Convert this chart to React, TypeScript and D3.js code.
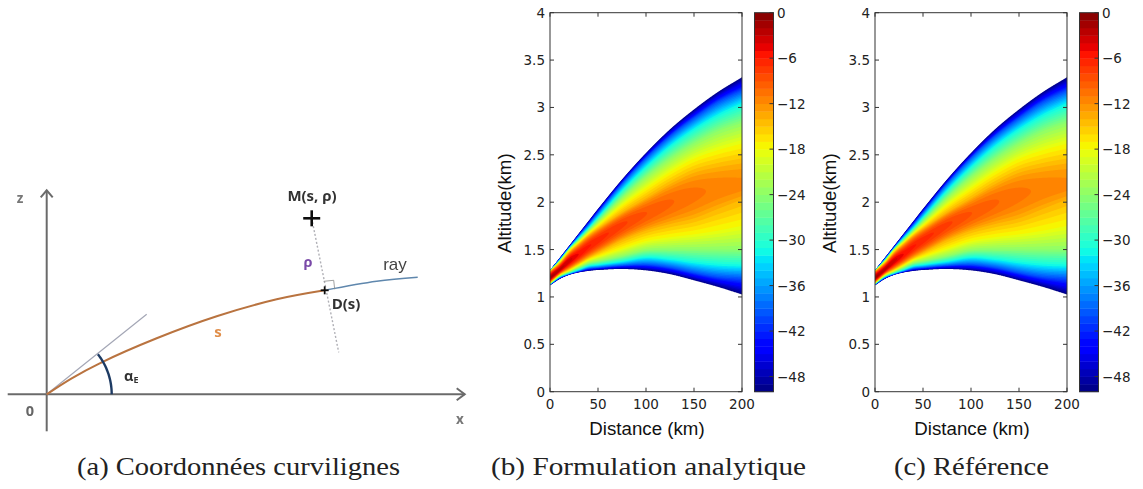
import React, { useMemo } from "react";
import * as d3 from "d3";

// ---------- Data ----------
const distanceTicks = [0, 50, 100, 150, 200];
const altitudeTicks = [0, 0.5, 1, 1.5, 2, 2.5, 3, 3.5, 4];
const colorbarTicks = [0, -6, -12, -18, -24, -30, -36, -42, -48];
const stations = [0, 10, 20, 30, 40, 50, 75, 100, 125, 150, 175, 200];
const ridgeAltitude = [1.2, 1.285, 1.38, 1.45, 1.53, 1.6, 1.76, 1.88, 1.99, 2.08, 2.14, 2.17];
const ridgeValue = [-1.5, -2.5, -3.5, -5, -5.8, -6.4, -7.7, -8.95, -9.85, -10.65, -11.3, -11.7];
const isoLevels = [-50, -40, -32, -24, -18, -14];
const upperIso = [
  [1.28, 1.41, 1.54, 1.67, 1.8, 1.93, 2.24, 2.52, 2.77, 2.98, 3.165, 3.32],
  [1.279, 1.4, 1.525, 1.65, 1.77, 1.895, 2.2, 2.47, 2.7, 2.89, 3.06, 3.18],
  [1.278, 1.39, 1.515, 1.625, 1.73, 1.845, 2.13, 2.38, 2.6, 2.78, 2.93, 3.05],
  [1.277, 1.38, 1.505, 1.6, 1.7, 1.8, 2.05, 2.27, 2.46, 2.62, 2.75, 2.84],
  [1.275, 1.37, 1.49, 1.58, 1.672, 1.757, 1.97, 2.15, 2.32, 2.46, 2.55, 2.62],
  [1.27, 1.355, 1.47, 1.56, 1.647, 1.72, 1.89, 2.04, 2.19, 2.31, 2.37, 2.41],
];
const lowerIso = [
  [1.125, 1.19, 1.235, 1.26, 1.275, 1.285, 1.295, 1.28, 1.24, 1.175, 1.105, 1.025],
  [1.13, 1.2, 1.24, 1.27, 1.298, 1.308, 1.33, 1.34, 1.31, 1.255, 1.21, 1.19],
  [1.135, 1.21, 1.25, 1.285, 1.323, 1.336, 1.37, 1.41, 1.39, 1.355, 1.33, 1.32],
  [1.14, 1.22, 1.265, 1.31, 1.355, 1.376, 1.43, 1.49, 1.5, 1.5, 1.5, 1.5],
  [1.148, 1.23, 1.28, 1.335, 1.39, 1.425, 1.51, 1.59, 1.63, 1.66, 1.7, 1.75],
  [1.155, 1.24, 1.295, 1.355, 1.415, 1.468, 1.6, 1.7, 1.77, 1.83, 1.93, 2.03],
];
const contourLevels = d3.range(-50, 0, 1);

// Diagram (a), in diagram units measured from the origin
const orangeRay: [number, number][] = [[0, 0], [25, 16], [53, 31], [110, 56], [170, 78], [230, 95], [278, 104]];
const blueRay: [number, number][] = [[278, 104], [330, 113], [371, 117]];
const tangentEnd: [number, number] = [100, 80];
const pointM: [number, number] = [265, 176];
const pointD: [number, number] = [278, 104];
const dottedEnd: [number, number] = [292, 42];
const arcRadius = 65;
const arcAngle = 38;

const captions = ["(a) Coordonnées curvilignes", "(b) Formulation analytique", "(c) Référence"];

// ---------- Helpers ----------
const lerpStops = (stops: number[][], t: number) => {
  for (let i = 1; i < stops.length; i++) {
    if (t <= stops[i][0]) {
      const [a, va] = stops[i - 1];
      const [b, vb] = stops[i];
      return va + ((vb - va) * (t - a)) / (b - a);
    }
  }
  return stops[stops.length - 1][1];
};
const jet = (t: number) => {
  const r = lerpStops([[0, 0], [0.35, 0], [0.66, 1], [0.89, 1], [1, 0.5]], t);
  const g = lerpStops([[0, 0], [0.125, 0], [0.375, 1], [0.64, 1], [0.91, 0], [1, 0]], t);
  const b = lerpStops([[0, 0.5], [0.11, 1], [0.34, 1], [0.65, 0], [1, 0]], t);
  return d3.rgb(r * 255, g * 255, b * 255).formatHex();
};
const levelColor = (l: number) => jet((l + 0.5 + 50) / 50);

// Hermite evaluation along the stations
const smooth = (ys: number[], x: number) => {
  const n = stations.length;
  const cx = Math.max(0, Math.min(200, x));
  let i = d3.bisectRight(stations, cx) - 1;
  i = Math.max(0, Math.min(n - 2, i));
  const h = stations[i + 1] - stations[i];
  const t = (cx - stations[i]) / h;
  const slope = (k: number) => {
    const a = Math.max(0, k - 1);
    const b = Math.min(n - 1, k + 1);
    return (ys[b] - ys[a]) / (stations[b] - stations[a]);
  };
  const m0 = slope(i) * h;
  const m1 = slope(i + 1) * h;
  const t2 = t * t;
  const t3 = t2 * t;
  return (2 * t3 - 3 * t2 + 1) * ys[i] + (t3 - 2 * t2 + t) * m0 + (-2 * t3 + 3 * t2) * ys[i + 1] + (t3 - t2) * m1;
};

const W = 192;
const H = 379;
const x0 = 550;
const yTop = 12.7;
const xScale = d3.scaleLinear().domain([0, 200]).range([0, W]);
const yScale = d3.scaleLinear().domain([0, 4]).range([H, 0]);
const cbScale = d3.scaleLinear().domain([-50, 0]).range([H, 0]);

function buildBands() {
  const RES = 2;
  const nx = W * RES + 3;
  const ny = H * RES + 3;
  const values = new Float64Array(nx * ny);
  for (let i = 0; i < nx; i++) {
    const d = xScale.invert((i - 1) / RES);
    const lowers = lowerIso.map((s) => smooth(s, d));
    const uppers = upperIso.map((s) => smooth(s, d));
    const rA = smooth(ridgeAltitude, d);
    const rV = smooth(ridgeValue, d);
    for (let j = 0; j < ny; j++) {
      const alt = yScale.invert((j - 1) / RES);
      let v: number;
      if (alt <= lowers[0]) v = Math.max(-90, -50 - (lowers[0] - alt) * 300);
      else if (alt >= uppers[0]) v = Math.max(-90, -50 - (alt - uppers[0]) * 300);
      else {
        const side = alt < rA ? lowers : uppers;
        const sgn = alt < rA ? 1 : -1;
        let k = side.length - 1;
        for (let q = 0; q < side.length - 1; q++) {
          if (sgn * (alt - side[q]) >= 0 && sgn * (alt - side[q + 1]) < 0) { k = q; break; }
        }
        if (k === side.length - 1) {
          const t = (alt - rA) / (side[k] - rA);
          v = rV + (isoLevels[k] - rV) * t * t;
        } else {
          const t = (alt - side[k]) / (side[k + 1] - side[k]);
          v = isoLevels[k] + (isoLevels[k + 1] - isoLevels[k]) * t;
        }
      }
      values[i + j * nx] = v;
    }
  }
  const contours = d3.contours().size([nx, ny]).thresholds(contourLevels)(values as any);
  const path = d3.geoPath();
  return { RES, paths: contours.map((c) => ({ level: c.value, d: path(c) || "" })) };
}

const axisColor = "#333";
const tickFont = "'DejaVu Sans', sans-serif";
const labelFont = "'Liberation Sans', Arial, sans-serif";
const diagramFont = "'Open Sans', 'Noto Sans', sans-serif";

function Panel({ dx, id, bands }: { dx: number; id: string; bands: ReturnType<typeof buildBands> }) {
  const cbx = 204.5;
  const cbw = 19;
  const off = 1 / bands.RES;
  return (
    <g transform={`translate(${x0 + dx},${yTop})`}>
      <clipPath id={id}>
        <rect x={0} y={0} width={W} height={H} />
      </clipPath>
      <g clipPath={`url(#${id})`}>
        <g transform={`translate(${-(1 + 0.5) * off},${-(1 + 0.5) * off}) scale(${off})`}>
          {bands.paths.map((p) => (
            <path key={p.level} d={p.d} fill={levelColor(p.level)} />
          ))}
        </g>
      </g>
      <rect x={0} y={0} width={W} height={H} fill="none" stroke={axisColor} strokeWidth={1} />
      {distanceTicks.map((t) => (
        <g key={t} transform={`translate(${xScale(t)},0)`}>
          <line y1={0} y2={4} stroke={axisColor} />
          <line y1={H} y2={H - 4} stroke={axisColor} />
          <text y={H + 17} textAnchor="middle" fontFamily={tickFont} fontSize={13.5} fill="#222">{t}</text>
        </g>
      ))}
      {altitudeTicks.map((t) => (
        <g key={t} transform={`translate(0,${yScale(t)})`}>
          <line x1={0} x2={4} stroke={axisColor} />
          <line x1={W} x2={W - 4} stroke={axisColor} />
          <text x={-5} y={5} textAnchor="end" fontFamily={tickFont} fontSize={13.5} fill="#222">{t}</text>
        </g>
      ))}
      <text x={W / 2 + 1} y={H + 43} textAnchor="middle" fontFamily={labelFont} fontSize={18.7} fill="#111">Distance (km)</text>
      <text transform={`translate(${-39},${H / 2 + 1}) rotate(-90)`} textAnchor="middle" fontFamily={labelFont} fontSize={18.7} fill="#111">Altitude(km)</text>
      {contourLevels.map((l) => (
        <rect key={l} x={cbx} y={cbScale(l + 1)} width={cbw} height={cbScale(l) - cbScale(l + 1) + 0.4} fill={levelColor(l)} />
      ))}
      <rect x={cbx} y={0} width={cbw} height={H} fill="none" stroke={axisColor} strokeWidth={1} />
      {colorbarTicks.map((t) => (
        <g key={t} transform={`translate(${cbx + cbw},${cbScale(t)})`}>
          <line x1={0} x2={-4} stroke={axisColor} />
          <text x={3.5} y={5} fontFamily={tickFont} fontSize={13.5} fill="#222">{t < 0 ? `\u2212${-t}` : t}</text>
        </g>
      ))}
    </g>
  );
}

function Diagram() {
  const ax = d3.scaleLinear().domain([0, 420]).range([46.7, 466.7]);
  const ay = d3.scaleLinear().domain([0, 205]).range([394.3, 189.3]);
  const line = d3.line<[number, number]>().x((d) => ax(d[0])).y((d) => ay(d[1])).curve(d3.curveCatmullRom);
  const gray = "#6b6b6b";
  const arcPts = d3.range(0, arcAngle + 1, 2).map((a) => [arcRadius * Math.cos((a * Math.PI) / 180), arcRadius * Math.sin((a * Math.PI) / 180)] as [number, number]);
  return (
    <g filter="url(#soft)">
      <line x1={ax(-39)} x2={ax(418)} y1={ay(0)} y2={ay(0)} stroke={gray} strokeWidth={2} />
      <line x1={ax(0)} x2={ax(0)} y1={ay(-37)} y2={ay(204)} stroke={gray} strokeWidth={2} />
      <path d={`M${ax(410)},${ay(6)}L${ax(418)},${ay(0)}L${ax(410)},${ay(-6)}`} fill="none" stroke={gray} strokeWidth={2} />
      <path d={`M${ax(-6)},${ay(197)}L${ax(0)},${ay(204)}L${ax(6)},${ay(197)}`} fill="none" stroke={gray} strokeWidth={2} />
      <line x1={ax(0)} y1={ay(0)} x2={ax(tangentEnd[0])} y2={ay(tangentEnd[1])} stroke="#a3a6b5" strokeWidth={1.2} />
      <path d={line(blueRay) || ""} fill="none" stroke="#5f87ad" strokeWidth={1.5} />
      <path d={line(orangeRay) || ""} fill="none" stroke="#b9733f" strokeWidth={2} />
      <path d={d3.line<[number, number]>().x((d) => ax(d[0])).y((d) => ay(d[1]))(arcPts) || ""} fill="none" stroke="#1f3a63" strokeWidth={2.4} />
      <line x1={ax(pointM[0])} y1={ay(pointM[1])} x2={ax(dottedEnd[0])} y2={ay(dottedEnd[1])} stroke="#b0b0b6" strokeWidth={1.4} strokeDasharray="2 2" />
      <path d={`M${ax(pointD[0] - 1)},${ay(pointD[1] + 9)}L${ax(pointD[0] + 9)},${ay(pointD[1] + 10)}L${ax(pointD[0] + 10)},${ay(pointD[1] + 1)}`} fill="none" stroke="#8a8a8a" strokeWidth={0.8} />
      <g stroke="#111" strokeWidth={2.6}>
        <line x1={ax(pointM[0] - 8.5)} x2={ax(pointM[0] + 8.5)} y1={ay(pointM[1])} y2={ay(pointM[1])} />
        <line x1={ax(pointM[0])} x2={ax(pointM[0])} y1={ay(pointM[1] - 8)} y2={ay(pointM[1] + 8)} />
      </g>
      <g stroke="#111" strokeWidth={1.8}>
        <line x1={ax(pointD[0] - 4)} x2={ax(pointD[0] + 4)} y1={ay(pointD[1])} y2={ay(pointD[1])} />
        <line x1={ax(pointD[0])} x2={ax(pointD[0])} y1={ay(pointD[1] - 4)} y2={ay(pointD[1] + 4)} />
      </g>
      <g fontFamily={diagramFont}>
        <text x={312} y={201} textAnchor="middle" fontWeight={700} fontSize={15} fill="#333">M(s, ρ)</text>
        <text x={346} y={309} textAnchor="middle" fontWeight={700} fontSize={15} fill="#333">D(s)</text>
        <text x={20} y={203} textAnchor="middle" fontWeight={700} fontSize={13.5} fill="#777">z</text>
        <text x={30} y={416} textAnchor="middle" fontWeight={700} fontSize={14.5} fill="#666">0</text>
        <text x={460} y={424} textAnchor="middle" fontWeight={700} fontSize={13.5} fill="#777">x</text>
        <text x={308} y={267} textAnchor="middle" fontWeight={700} fontSize={14.5} fill="#7a4aa8">ρ</text>
        <text x={218} y={337} textAnchor="middle" fontWeight={700} fontSize={15} fill="#e08e4a">s</text>
        <text x={395} y={270} textAnchor="middle" fontSize={17} fontFamily={labelFont} fill="#444">ray</text>
        <text x={124} y={381} fontWeight={700} fontSize={14.5} fill="#333">α<tspan fontSize={9} dy={2}>E</tspan></text>
      </g>
    </g>
  );
}

export default function App() {
  const bands = useMemo(buildBands, []);
  const capFont = "'Liberation Serif', 'DejaVu Serif', serif";
  return (
    <svg width={1143} height={489} style={{ position: "absolute", left: 0, top: 0, background: "#fff" }}>
      <defs>
        <filter id="soft" x="-5%" y="-5%" width="110%" height="110%">
          <feGaussianBlur stdDeviation={0.55} />
        </filter>
      </defs>
      <Diagram />
      <Panel dx={0} id="clipB" bands={bands} />
      <Panel dx={325} id="clipC" bands={bands} />
      <g fontFamily={capFont} fontSize={26} fill="#222">
        <text x={77} y={475} textLength={323} lengthAdjust="spacingAndGlyphs">{captions[0]}</text>
        <text x={491} y={475} textLength={315} lengthAdjust="spacingAndGlyphs">{captions[1]}</text>
        <text x={894} y={475} textLength={155} lengthAdjust="spacingAndGlyphs">{captions[2]}</text>
      </g>
    </svg>
  );
}
